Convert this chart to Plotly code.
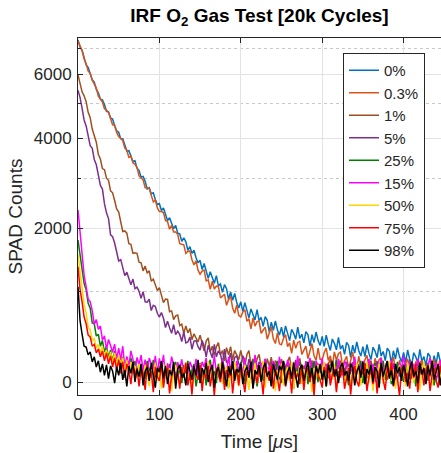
import plotly.graph_objects as go

# ---------------- data ----------------
time_us = [0, 2.5, 5, 7.5, 10, 12.5, 15, 17.5, 20, 22.5,
           25, 27.5, 30, 32.5, 35, 37.5, 40, 42.5, 45, 47.5,
           50, 52.5, 55, 57.5, 60, 62.5, 65, 67.5, 70, 72.5,
           75, 77.5, 80, 82.5, 85, 87.5, 90, 92.5, 95, 97.5,
           100, 102.5, 105, 107.5, 110, 112.5, 115, 117.5, 120, 122.5,
           125, 127.5, 130, 132.5, 135, 137.5, 140, 142.5, 145, 147.5,
           150, 152.5, 155, 157.5, 160, 162.5, 165, 167.5, 170, 172.5,
           175, 177.5, 180, 182.5, 185, 187.5, 190, 192.5, 195, 197.5,
           200, 202.5, 205, 207.5, 210, 212.5, 215, 217.5, 220, 222.5,
           225, 227.5, 230, 232.5, 235, 237.5, 240, 242.5, 245, 247.5,
           250, 252.5, 255, 257.5, 260, 262.5, 265, 267.5, 270, 272.5,
           275, 277.5, 280, 282.5, 285, 287.5, 290, 292.5, 295, 297.5,
           300, 302.5, 305, 307.5, 310, 312.5, 315, 317.5, 320, 322.5,
           325, 327.5, 330, 332.5, 335, 337.5, 340, 342.5, 345, 347.5,
           350, 352.5, 355, 357.5, 360, 362.5, 365, 367.5, 370, 372.5,
           375, 377.5, 380, 382.5, 385, 387.5, 390, 392.5, 395, 397.5,
           400, 402.5, 405, 407.5, 410, 412.5, 415, 417.5, 420, 422.5,
           425, 427.5, 430, 432.5, 435, 437.5, 440, 442.5, 445, 447.5]

counts_0 = [7340, 7050, 6920, 6610, 6340, 6250, 6030, 5800, 5720, 5470,
            5360, 5150, 5130, 4980, 4770, 4750, 4570, 4540, 4350, 4200,
            4160, 3980, 3980, 3800, 3660, 3670, 3550, 3400, 3420, 3240,
            3190, 3030, 3050, 2940, 2770, 2800, 2670, 2690, 2550, 2450,
            2470, 2330, 2380, 2240, 2140, 2190, 2100, 1990, 2050, 1910,
            1900, 1770, 1830, 1760, 1620, 1680, 1570, 1620, 1500, 1420,
            1460, 1320, 1410, 1285, 1190, 1285, 1210, 1120, 1230, 1085,
            1110, 995, 1100, 1045, 900, 1000, 890, 980, 860, 790,
            870, 750, 860, 750, 670, 780, 720, 645, 770, 638,
            675, 570, 685, 640, 505, 620, 525, 632, 530, 470,
            560, 452, 575, 478, 410, 535, 490, 425, 560, 435,
            480, 385, 510, 475, 350, 475, 390, 505, 410, 358,
            455, 348, 470, 372, 305, 428, 380, 312, 445, 318,
            360, 265, 390, 358, 235, 362, 278, 395, 302, 248,
            345, 242, 368, 275, 212, 339, 296, 233, 370, 248,
            295, 202, 330, 298, 175, 302, 218, 335, 242, 189,
            286, 183, 310, 218, 155, 282, 240, 178, 316, 194,
            242, 150, 278, 246, 124, 252, 170, 288, 196, 144]

counts_0p3 = [7290, 7090, 6890, 6570, 6390, 6110, 6040, 5790, 5660, 5520,
              5250, 5160, 5060, 4850, 4810, 4740, 4530, 4370, 4360, 4155,
              4040, 4000, 3930, 3740, 3680, 3500, 3530, 3370, 3330, 3260,
              3060, 3020, 2970, 2800, 2800, 2780, 2610, 2500, 2540, 2380,
              2310, 2310, 2290, 2140, 2120, 1980, 2050, 1930, 1930, 1890,
              1730, 1720, 1710, 1570, 1600, 1610, 1470, 1390, 1450, 1310,
              1250, 1295, 1310, 1155, 1170, 1035, 1150, 1040, 1080, 1075,
              920, 945, 970, 825, 900, 940, 790, 725, 830, 700,
              680, 740, 770, 630, 660, 540, 670, 572, 625, 632,
              490, 525, 560, 425, 510, 565, 430, 378, 495, 375,
              365, 435, 475, 345, 385, 275, 415, 328, 390, 402,
              265, 308, 350, 222, 315, 378, 250, 205, 330, 215,
              210, 285, 330, 205, 250, 145, 290, 206, 272, 288,
              154, 200, 246, 123, 220, 287, 164, 121, 248, 135,
              132, 209, 256, 133, 180, 78, 226, 144, 212, 230,
              98, 146, 195, 73, 172, 240, 119, 77, 206, 94,
              93, 171, 220, 99, 148, 47, 196, 115, 184, 203,
              72, 121, 170, 49, 148, 217, 96, 55, 185, 74]

counts_1 = [5980, 5690, 5390, 5260, 5070, 4740, 4580, 4250, 4070, 3890,
            3570, 3460, 3230, 3205, 3010, 2960, 2730, 2690, 2530, 2360,
            2300, 2100, 1940, 1950, 1910, 1730, 1720, 1570, 1580, 1570,
            1430, 1420, 1300, 1370, 1270, 1300, 1150, 1180, 1100, 1020,
            1060, 940, 860, 905, 900, 745, 755, 650, 695, 705,
            580, 595, 490, 575, 495, 545, 420, 485, 440, 395,
            470, 365, 300, 405, 440, 290, 350, 252, 345, 388,
            260, 305, 200, 335, 260, 345, 210, 305, 260, 212,
            305, 208, 150, 262, 305, 158, 220, 125, 220, 266,
            142, 188, 85, 222, 150, 237, 105, 202, 160, 118,
            217, 125, 74, 192, 241, 100, 168, 77, 175, 224,
            102, 151, 49, 188, 116, 205, 73, 172, 131, 90,
            189, 98, 47, 166, 216, 75, 144, 54, 153, 202,
            81, 131, 30, 169, 98, 188, 57, 156, 115, 75,
            174, 83, 33, 152, 202, 61, 131, 40, 140, 189,
            69, 118, 18, 157, 87, 176, 46, 145, 105, 64,
            164, 74, 23, 143, 193, 53, 122, 32, 132, 182,
            61, 111, 11, 151, 80, 170, 40, 140, 100, 60]

counts_5 = [5440, 5210, 4870, 4510, 4340, 4070, 3800, 3730, 3450, 3320,
            3110, 2850, 2770, 2465, 2285, 2175, 1880, 1850, 1740, 1575,
            1450, 1470, 1365, 1230, 1280, 1185, 1100, 1180, 1045, 1065,
            1010, 915, 1005, 870, 865, 905, 760, 825, 810, 725,
            680, 735, 665, 555, 630, 555, 490, 590, 475, 515,
            478, 400, 505, 385, 395, 448, 318, 404, 410, 344,
            310, 410, 350, 240, 360, 290, 230, 370, 240, 302,
            265, 178, 320, 182, 205, 278, 120, 234, 248, 172,
            146, 251, 196, 92, 218, 154, 100, 246, 122, 189,
            156, 73, 220, 88, 115, 192, 40, 158, 177, 106,
            85, 194, 144, 43, 172, 112, 61, 210, 90, 159,
            129, 48, 198, 67, 97, 176, 26, 145, 165, 95,
            75, 184, 134, 33, 163, 103, 52, 202, 82, 151,
            121, 41, 191, 60, 90, 170, 20, 139, 159, 89,
            69, 178, 128, 28, 158, 97, 47, 197, 77, 146,
            116, 36, 186, 55, 85, 165, 15, 134, 154, 84,
            64, 173, 123, 23, 153, 92, 42, 192, 72, 141,
            111, 31, 181, 51, 80, 160, 10, 130, 150, 80]

counts_25 = [1790, 1520, 1330, 1120, 1030, 850, 790, 610, 600, 460,
             480, 350, 410, 290, 350, 230, 310, 190, 300, 160,
             250, 150, 240, 110, 220, 90, 230, 130, 200, 60,
             190, 110, 160, 30, 200, 120, 80, 210, 40, 140,
             100, 190, 10, 150, 60, 170, -20, 120, 190, 40,
             130, -10, 160, 80, 200, 20, 110, 170, -40, 90,
             180, 40, 120, -30, 150, 210, 60, 100, -10, 170,
             90, 200, 20, 130, -50, 110, 180, 50, 140, 0,
             190, 70, -20, 160, 100, 30, 210, 120, -40, 80,
             150, 10, 190, 90, 130, -30, 170, 60, 200, 40,
             -10, 140, 100, 180, 20, 120, -60, 160, 80, 190,
             30, 110, 170, -20, 140, 60, 200, 90, 0, 150,
             70, 180, -40, 120, 160, 40, 100, 210, 10, 130,
             190, 50, 90, -30, 170, 120, 20, 150, 80, 200,
             -10, 110, 160, 60, 130, -50, 180, 90, 30, 140,
             200, 20, 100, 170, -20, 120, 80, 190, 50, 150,
             0, 140, 90, 210, 30, 110, -40, 160, 120, 60,
             180, 10, 130, 90, 200, -30, 100, 150, 40, 170]

counts_15 = [2340, 1884, 1594, 1234, 1072, 906, 870, 758, 592, 650,
             534, 574, 414, 462, 320, 423, 358, 285, 372, 216,
             330, 210, 350, 138, 245, 148, 300, 215, 80, 235,
             160, 258, 105, 212, 70, 227, 175, 112, 250, 77,
             225, 112, 260, 58, 176, 84, 242, 160, 28, 187,
             116, 215, 64, 173, 32, 191, 140, 80, 220, 50,
             60, 190, 140, 230, 30, 170, 100, 250, 90, 150,
             20, 210, 130, 80, 240, 120, 180, 40, 200, 110,
             160, 70, 230, 10, 140, 190, 90, 260, 130, 50,
             180, 110, 220, 60, 150, 0, 200, 120, 80, 240,
             100, 170, 30, 210, 140, 60, 190, 110, 250, 70,
             160, 20, 180, 130, 230, 90, 40, 200, 150, 100,
             230, 50, 170, 110, 10, 190, 140, 80, 220, 120,
             60, 200, 160, 30, 180, 100, 240, 70, 150, 110,
             200, 40, 130, 220, 90, 170, 0, 160, 120, 230,
             80, 140, 190, 50, 210, 100, 160, 20, 180, 130,
             250, 90, 60, 200, 120, 170, 30, 220, 140, 100,
             190, 10, 150, 230, 70, 130, 180, 40, 210, 110]

counts_50 = [1550, 1250, 1060, 830, 730, 560, 530, 410, 430, 330,
             370, 270, 350, 240, 310, 200, 290, 170, 280, 150,
             260, 140, 230, 100, 210, 70, 190, 120, 150, 40,
             170, 90, 20, 160, 110, -40, 140, 60, 180, 10,
             120, -60, 90, 170, 30, 130, -80, 100, 160, 40,
             -30, 150, 70, 190, 0, 110, -70, 140, 80, 20,
             170, -50, 120, 60, 200, 10, 100, -90, 130, 50,
             180, -20, 90, 150, -60, 110, 30, 190, 70, -40,
             140, 0, 160, 80, -70, 120, 40, 180, -10, 100,
             60, 200, -50, 130, 20, 160, 90, -80, 110, 50,
             170, -30, 80, 140, 10, 190, -60, 100, 60, 150,
             -20, 120, 30, 180, 70, -90, 130, 40, 160, 0,
             110, 190, -40, 90, 150, 20, 170, -70, 120, 60,
             200, -10, 80, 140, -50, 100, 30, 180, 60, -30,
             130, 70, 190, 0, 110, -80, 150, 40, 170, 90,
             -20, 140, 60, 200, 10, 120, -60, 90, 160, 30,
             100, -40, 180, 70, 130, -10, 150, 50, -70, 110,
             190, 20, 80, 160, -30, 120, 60, 200, 0, 140]

counts_75 = [1360, 1040, 870, 680, 600, 470, 450, 350, 370, 280,
             320, 240, 300, 200, 280, 170, 250, 140, 230, 110,
             210, 80, 190, 40, 170, 110, -20, 150, 60, 130,
             -40, 120, 80, -70, 160, 30, 100, -90, 140, 50,
             10, 170, -50, 90, 130, -100, 60, 150, 0, 110,
             -60, 140, 40, 180, -30, 80, -110, 120, 70, 20,
             160, -80, 100, 30, 150, -40, 90, -120, 130, 60,
             0, 170, -70, 110, 40, 150, -100, 80, 120, -30,
             140, 20, -90, 100, 60, 180, -50, 90, -10, 130,
             50, -110, 150, 70, 10, 160, -60, 110, 40, -80,
             120, 170, -40, 60, 100, -100, 140, 30, 80, -20,
             160, -70, 90, 130, 0, 110, -120, 150, 60, 20,
             -50, 140, 80, 180, -30, 70, 120, -90, 100, 40,
             160, -60, 30, 130, -110, 90, 150, 10, -40, 120,
             70, 170, -80, 50, 110, -20, 140, -100, 90, 160,
             20, -70, 130, 60, 180, -40, 100, 30, -120, 110,
             150, 0, 80, -60, 140, 40, 170, -90, 90, 120,
             -30, 110, 160, -80, 60, 130, 10, -50, 150, 70]

counts_98 = [1070, 640, 480, 350, 340, 260, 290, 190, 240, 140,
             200, 90, 170, 60, 160, 30, 150, 100, -10, 140,
             60, 180, 20, 110, -40, 150, 80, 190, 0, 120,
             50, 170, -30, 100, 140, 10, 180, 70, -50, 130,
             90, 200, 30, 150, -20, 110, 60, 190, -60, 120,
             160, 40, 80, -30, 170, 100, 20, 150, 60, 210,
             -10, 130, 70, 180, 0, 110, 160, -50, 90, 140,
             30, 190, 80, -40, 150, 60, 200, 10, 120, 90,
             170, -20, 100, 140, 40, 190, -60, 110, 70, 160,
             0, 130, 180, 50, 100, -40, 170, 80, 20, 150,
             110, 200, -30, 90, 140, 30, 180, 60, -50, 120,
             160, 10, 100, 190, 40, 130, -20, 150, 80, 170,
             20, 110, -40, 160, 90, 200, 50, 120, -10, 140,
             180, 60, 100, 10, 170, 130, -30, 90, 150, 40,
             190, -20, 120, 70, 160, 0, 140, 100, -50, 180,
             50, 130, 200, 30, 110, -30, 170, 80, 140, 10,
             160, 90, -40, 120, 190, 50, 100, -10, 180, 70,
             130, -20, 150, 60, 200, 20, 110, 170, -30, 90]

series_names = ["0%", "0.3%", "1%", "5%", "25%", "15%", "50%", "75%", "98%"]
series_values = [counts_0, counts_0p3, counts_1, counts_5, counts_25,
                 counts_15, counts_50, counts_75, counts_98]

y_tick_values = [0, 2000, 4000, 6000]
y_minor_values = [1000, 3000, 5000, 7000]
x_tick_values = [0, 100, 200, 300, 400]

# ---------------- styling ----------------
colors = ["#0072BD", "#D95319", "#A0501E", "#7E2F8E", "#008000",
          "#FF00FF", "#FFD700", "#FF0000", "#000000"]
Y_OFFSET = 2000  # the reference uses a compressed (shifted-log) count axis
FONT = "Liberation Sans, Arial, Helvetica, sans-serif"
TXT = "#262626"

fig = go.Figure()
for name, vals, col in zip(series_names, series_values, colors):
    fig.add_trace(go.Scatter(
        x=time_us, y=[v + Y_OFFSET for v in vals], mode="lines", name=name,
        line=dict(color=col, width=1.5)))

fig.update_layout(
    width=441, height=453,
    margin=dict(l=78, r=0, t=38, b=58, autoexpand=False),
    paper_bgcolor="white", plot_bgcolor="white",
    font=dict(family=FONT, size=17, color=TXT),
    title=dict(text="<b>IRF O<sub>2</sub> Gas Test [20k Cycles]</b>",
               x=0.5, xref="paper", xanchor="center",
               y=1 - 15 / 453, yref="container", yanchor="middle",
               font=dict(family=FONT, size=19, color="black")),
    showlegend=True,
    legend=dict(x=0.73, y=0.958, xanchor="left", yanchor="top",
                bgcolor="white", bordercolor=TXT, borderwidth=1,
                font=dict(family=FONT, size=15, color=TXT),
                tracegroupgap=0, itemwidth=30),
)

fig.update_xaxes(
    range=[0, 446], tickmode="array", tickvals=x_tick_values,
    ticktext=[str(v) for v in x_tick_values], automargin=False,
    showline=True, linecolor=TXT, linewidth=1, mirror="ticks",
    ticks="inside", ticklen=5, tickcolor=TXT, ticklabelstandoff=4,
    showgrid=True, gridcolor="#e3e3e3", gridwidth=1, zeroline=False,
    title=dict(text="Time [<i>μ</i>s]", font=dict(family=FONT, size=19, color=TXT),
               standoff=11),
)

fig.update_yaxes(
    type="log", range=[3.2756, 3.974], automargin=False,
    tickmode="array", tickvals=[v + Y_OFFSET for v in y_tick_values],
    ticktext=[str(v) for v in y_tick_values],
    showline=True, linecolor=TXT, linewidth=1, mirror=False,
    ticks="inside", ticklen=5, tickcolor=TXT, ticklabelstandoff=2,
    showgrid=True, gridcolor="#e3e3e3", gridwidth=1, zeroline=False,
    minor=dict(tickmode="array", tickvals=[v + Y_OFFSET for v in y_minor_values],
               showgrid=True, gridcolor="#c8c8c8", griddash="dot", gridwidth=1,
               ticks="inside", ticklen=3, tickcolor=TXT),
    title=dict(text="SPAD Counts", font=dict(family=FONT, size=19, color=TXT),
               standoff=6),
)

fig.write_html(
    "out.html",
    config={"displayModeBar": False},
    post_script="document.body.style.margin='0';document.body.style.overflow='hidden';",
)
